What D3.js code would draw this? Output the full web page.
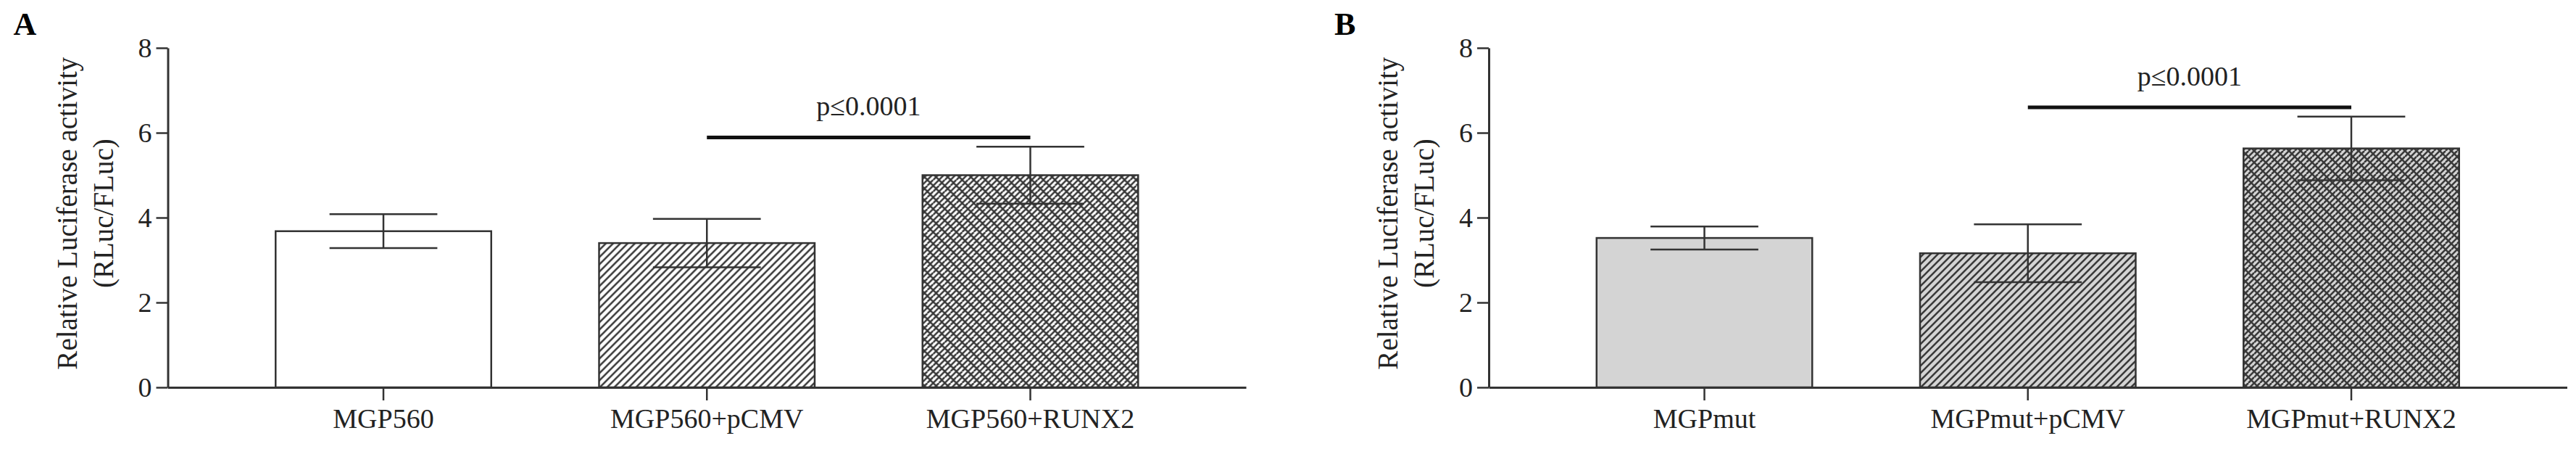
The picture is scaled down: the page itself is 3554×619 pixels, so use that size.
<!DOCTYPE html>
<html>
<head>
<meta charset="utf-8">
<script src="https://cdn.jsdelivr.net/npm/d3@7"></script>
<style>
  body { margin: 0; background: #fff; }
  svg { display: block; }
</style>
</head>
<body>
<svg id="chart" width="3554" height="619"></svg>
<script>
/*
Data
*/
var categoriesA = ["MGP560", "MGP560+pCMV", "MGP560+RUNX2"];
var meansA = [3.68, 3.40, 5.00];
var errorsA = [0.40, 0.57, 0.67];
var sigLevelA = 5.89;

var categoriesB = ["MGPmut", "MGPmut+pCMV", "MGPmut+RUNX2"];
var meansB = [3.52, 3.16, 5.63];
var errorsB = [0.27, 0.68, 0.75];
var sigLevelB = 6.6;

var yTicks = [0, 2, 4, 6, 8];
var pLabel = "p\u22640.0001";
var yLabelLines = ["Relative Luciferase activity", "(RLuc/FLuc)"];

var FONT = "'Liberation Serif', 'Times New Roman', serif";
var INK = "#333";

var svg = d3.select("#chart");
var defs = svg.append("defs");

// hatch patterns, one set per background colour
function makePatterns(id, bg) {
    var h = defs.append("pattern")
        .attr("id", "hatch" + id)
        .attr("patternUnits", "userSpaceOnUse")
        .attr("width", 10).attr("height", 10);
    h.append("rect").attr("width", 10).attr("height", 10).attr("fill", bg);
    h.append("path")
        .attr("d", "M-2,2 L2,-2 M0,10 L10,0 M8,12 L12,8")
        .attr("stroke", "#3a3a3a").attr("stroke-width", 2.6);

    var c = defs.append("pattern")
        .attr("id", "cross" + id)
        .attr("patternUnits", "userSpaceOnUse")
        .attr("width", 16).attr("height", 16);
    c.append("rect").attr("width", 16).attr("height", 16).attr("fill", bg);
    c.append("path")
        .attr("d", "M-2,2 L2,-2 M0,8 L8,0 M0,16 L16,0 M8,16 L16,8 M14,18 L18,14")
        .attr("stroke", "#3a3a3a").attr("stroke-width", 2.6);
    c.append("path")
        .attr("d", "M0,0 L16,16 M-4,12 L4,20 M12,-4 L20,4")
        .attr("stroke", "#3a3a3a").attr("stroke-width", 2.6);
}
makePatterns("A", "#ffffff");
makePatterns("B", "#d4d4d4");

var y = d3.scaleLinear().domain([0, 8]).range([534, 66]);

function drawPanel(left, id, letter, categories, means, errors, sigLevel, baseFill) {
    var g = svg.append("g").attr("transform", "translate(" + left + ",0)");

    var x = d3.scaleBand()
        .domain(categories)
        .range([0, 1487.5])
        .paddingInner(1 / 3)
        .paddingOuter(1 / 3);

    var fills = [baseFill, "url(#hatch" + id + ")", "url(#cross" + id + ")"];

    // bars
    g.selectAll(".bar")
        .data(means)
        .enter().append("rect")
        .attr("class", "bar")
        .attr("x", function (d, i) { return x(categories[i]); })
        .attr("y", function (d) { return y(d); })
        .attr("width", x.bandwidth())
        .attr("height", function (d) { return y(0) - y(d); })
        .attr("fill", function (d, i) { return fills[i]; })
        .attr("stroke", INK)
        .attr("stroke-width", 2.5);

    // error bars
    var cap = x.bandwidth() / 4;
    var eb = g.selectAll(".err")
        .data(means)
        .enter().append("g")
        .attr("class", "err")
        .attr("stroke", INK)
        .attr("stroke-width", 2.5);
    eb.append("line")
        .attr("x1", function (d, i) { return x(categories[i]) + x.bandwidth() / 2; })
        .attr("x2", function (d, i) { return x(categories[i]) + x.bandwidth() / 2; })
        .attr("y1", function (d, i) { return y(d - errors[i]); })
        .attr("y2", function (d, i) { return y(d + errors[i]); });
    eb.append("line")
        .attr("x1", function (d, i) { return x(categories[i]) + x.bandwidth() / 2 - cap; })
        .attr("x2", function (d, i) { return x(categories[i]) + x.bandwidth() / 2 + cap; })
        .attr("y1", function (d, i) { return y(d + errors[i]); })
        .attr("y2", function (d, i) { return y(d + errors[i]); });
    eb.append("line")
        .attr("x1", function (d, i) { return x(categories[i]) + x.bandwidth() / 2 - cap; })
        .attr("x2", function (d, i) { return x(categories[i]) + x.bandwidth() / 2 + cap; })
        .attr("y1", function (d, i) { return y(d - errors[i]); })
        .attr("y2", function (d, i) { return y(d - errors[i]); });

    // axes
    var xAxis = g.append("g")
        .attr("transform", "translate(0," + y(0) + ")")
        .call(d3.axisBottom(x).tickSize(18).tickSizeOuter(0).tickPadding(11));
    var yAxis = g.append("g")
        .call(d3.axisLeft(y).tickValues(yTicks).tickSize(16).tickSizeOuter(0).tickPadding(6)
            .tickFormat(d3.format("d")));

    [xAxis, yAxis].forEach(function (a) {
        a.select(".domain").attr("stroke", INK).attr("stroke-width", 3);
        a.selectAll(".tick line").attr("stroke", INK).attr("stroke-width", 2.5);
        a.selectAll(".tick text")
            .attr("fill", "#222")
            .style("font-family", FONT)
            .style("font-size", "38px");
    });

    // y axis title, two lines
    yLabelLines.forEach(function (t, i) {
        g.append("text")
            .attr("transform", "translate(" + (-126 + i * 50) + "," + y(4.1) + ") rotate(-90)")
            .attr("text-anchor", "middle")
            .attr("fill", "#222")
            .style("font-family", FONT)
            .style("font-size", "39px")
            .text(t);
    });

    // significance bar between groups 2 and 3
    var x1 = x(categories[1]) + x.bandwidth() / 2,
        x2 = x(categories[2]) + x.bandwidth() / 2;
    g.append("line")
        .attr("x1", x1).attr("x2", x2)
        .attr("y1", y(sigLevel)).attr("y2", y(sigLevel))
        .attr("stroke", "#111")
        .attr("stroke-width", 5);
    g.append("text")
        .attr("x", (x1 + x2) / 2)
        .attr("y", y(sigLevel) - 30)
        .attr("text-anchor", "middle")
        .attr("fill", "#222")
        .style("font-family", FONT)
        .style("font-size", "38px")
        .text(pLabel);

    // panel letter
    svg.append("text")
        .attr("x", left - 213)
        .attr("y", 48)
        .attr("fill", "#000")
        .style("font-family", FONT)
        .style("font-weight", "bold")
        .style("font-size", "44px")
        .text(letter);
}

drawPanel(231.5, "A", "A", categoriesA, meansA, errorsA, sigLevelA, "#ffffff");
drawPanel(2054, "B", "B", categoriesB, meansB, errorsB, sigLevelB, "#d4d4d4");
</script>
</body>
</html>
